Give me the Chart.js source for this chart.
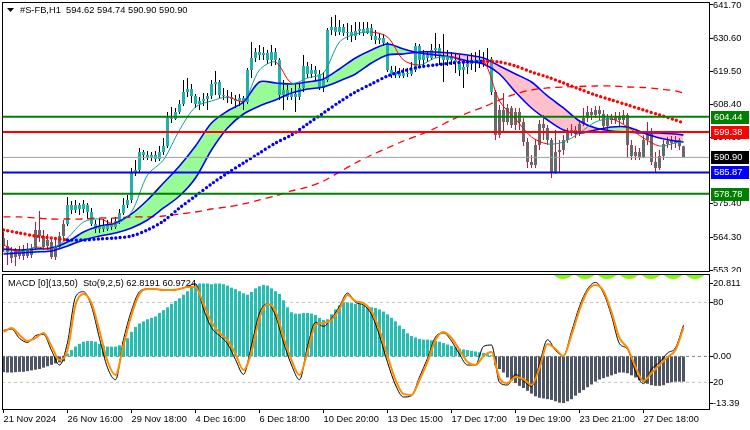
<!DOCTYPE html>
<html>
<head>
<meta charset="utf-8">
<title>#S-FB,H1</title>
<script src="https://cdn.jsdelivr.net/npm/chart.js@4.4.1/dist/chart.umd.min.js"></script>
<style>
  html, body { margin: 0; padding: 0; background: #ffffff; }
  #wrap { position: relative; width: 750px; height: 430px; overflow: hidden; background: #ffffff; }
  canvas { position: absolute; left: 0; }
  #main { top: 0; }
  #sub { top: 272px; }
</style>
</head>
<body>
<div id="wrap">
  <canvas id="main" width="750" height="272" style="width:750px;height:272px"></canvas>
  <canvas id="sub" width="750" height="158" style="width:750px;height:158px"></canvas>
</div>
<script>
// ---------------- DATA ----------------
const symbol = '#S-FB,H1';

const opens = [
564.04,561.37,559.37,557.70,559.70,558.04,560.04,558.37,560.70,566.70,
564.70,561.37,562.70,557.70,561.04,564.70,568.70,575.04,573.37,575.04,
573.70,575.04,572.70,568.70,567.04,568.04,567.04,568.70,567.70,569.70,
572.37,575.04,576.70,586.04,586.70,592.70,591.70,591.04,591.70,590.37,
592.70,594.70,604.04,603.70,606.04,608.70,612.70,613.70,611.37,608.70,
609.70,610.37,611.37,615.37,616.04,611.70,611.37,611.04,610.37,609.70,
610.70,609.37,620.04,624.04,626.04,625.04,625.70,623.37,626.04,623.37,
611.70,613.37,611.04,612.04,611.04,614.04,621.37,618.70,620.04,618.70,
614.04,616.70,633.37,634.37,632.70,634.37,632.37,632.70,631.37,633.04,
633.70,632.37,634.04,631.37,630.04,630.70,629.04,620.04,618.37,619.37,
618.04,619.04,618.70,620.04,628.04,623.37,625.04,624.04,626.70,627.37,
624.70,623.37,624.37,623.37,622.70,620.04,621.04,622.04,623.37,622.70,
623.37,623.04,623.70,612.70,598.37,606.70,602.70,607.37,601.70,606.04,
602.70,596.04,589.37,588.37,595.04,602.04,600.70,596.70,586.04,592.70,
593.37,596.70,599.70,600.04,598.70,602.04,604.04,606.04,605.04,606.70,
605.37,601.37,604.04,603.37,604.70,603.37,605.04,595.04,591.37,592.70,
591.04,596.70,598.70,589.37,587.37,591.37,595.37,596.37,595.70,596.70,
594.62];

const highs = [
566.04,563.37,561.04,560.70,561.37,561.70,562.37,562.04,569.37,573.04,
566.70,565.37,564.04,563.37,566.04,570.04,577.70,576.37,576.70,575.70,
576.70,575.70,574.04,570.04,570.70,570.37,570.04,570.70,571.04,573.70,
577.37,578.37,587.37,590.04,594.04,593.37,593.04,592.70,593.04,594.70,
597.37,606.04,607.70,607.37,610.04,616.70,617.37,615.37,612.04,611.04,
612.37,612.37,616.70,619.70,616.70,614.04,613.37,612.70,611.70,612.04,
611.37,620.70,629.37,627.37,628.37,627.70,626.70,628.37,627.37,624.04,
616.70,615.04,614.04,615.37,615.37,625.04,622.70,622.04,621.37,620.04,
619.37,634.04,637.70,638.37,636.70,635.37,635.70,635.04,636.04,636.04,
636.04,636.04,635.37,633.37,632.37,632.04,629.37,621.37,621.37,620.70,
620.70,620.70,622.70,629.04,628.70,626.70,626.04,628.70,632.37,628.70,
632.04,626.70,626.04,625.70,625.04,623.37,624.70,625.70,626.04,626.70,
626.04,627.37,624.37,613.37,608.37,612.37,608.70,608.04,607.37,607.37,
604.04,597.37,591.70,596.70,603.37,605.04,601.70,597.37,600.04,596.70,
598.37,600.70,602.04,601.37,603.37,607.37,608.04,607.37,608.04,608.04,
606.70,605.37,605.37,606.04,606.04,606.70,605.70,596.70,594.70,594.04,
598.37,602.70,600.70,592.70,593.37,596.70,597.70,598.04,598.04,597.37,
594.74];

const lows = [
559.37,555.04,555.70,554.70,557.04,556.70,557.37,557.37,560.04,562.70,
560.04,560.04,557.04,556.70,560.37,563.37,568.04,572.04,572.37,571.70,
572.37,570.37,568.04,565.70,565.70,566.04,566.37,566.70,567.04,568.70,
571.70,574.04,575.70,584.70,586.04,590.04,590.04,589.70,589.37,589.70,
591.70,594.04,602.37,603.37,605.37,608.04,611.04,609.04,607.37,606.70,
608.04,606.70,610.37,611.70,610.70,610.04,609.04,608.70,607.37,608.04,
606.70,608.70,617.37,622.70,623.37,623.37,622.04,621.37,621.70,610.04,
606.70,610.04,610.04,606.04,610.04,612.70,617.37,617.37,616.70,613.37,
612.70,616.04,631.70,631.37,631.70,631.37,630.04,629.37,630.04,631.70,
631.37,632.04,630.04,628.70,628.70,628.04,619.37,617.37,617.37,617.37,
617.37,617.70,618.04,619.37,621.37,620.70,622.70,623.37,624.04,621.70,
616.04,621.37,621.70,619.04,618.04,614.04,618.70,620.04,619.37,620.70,
621.04,621.37,611.70,596.70,597.37,599.37,601.70,600.70,600.04,600.04,
594.70,587.37,587.37,587.37,593.37,596.70,595.04,584.04,585.37,586.04,
591.70,595.70,598.04,597.37,598.04,601.37,602.70,603.37,604.04,603.37,
600.04,599.37,602.04,602.04,601.37,602.04,590.70,590.04,590.04,590.04,
590.70,595.04,588.37,585.70,586.70,590.04,594.04,593.37,594.04,593.37,
590.90];

const closes = [
561.37,559.37,557.37,559.70,558.04,560.04,558.04,560.70,566.70,564.70,
561.04,563.37,557.70,561.04,564.70,568.70,575.04,573.37,575.04,573.70,
575.37,572.70,568.70,567.04,568.04,567.04,568.70,567.70,569.70,572.37,
575.04,576.70,586.04,586.70,592.70,591.70,591.04,591.70,590.37,592.70,
594.70,604.04,603.70,606.04,608.70,612.70,613.70,611.37,608.70,609.70,
610.37,611.37,615.37,616.04,611.70,611.37,611.04,610.37,609.70,610.70,
609.37,620.04,624.04,626.04,625.04,625.70,623.37,626.04,623.37,611.70,
613.37,611.04,612.04,611.04,614.04,621.37,618.70,620.04,618.70,614.04,
616.70,633.37,634.37,632.70,634.37,632.37,632.70,631.37,633.04,633.70,
632.37,634.04,631.37,630.04,630.70,629.04,620.04,618.37,619.37,618.04,
619.04,618.70,620.04,628.04,623.37,625.04,624.04,626.70,627.37,624.70,
623.37,624.37,623.37,622.70,620.04,621.04,622.04,623.37,622.70,623.37,
623.04,623.70,612.70,598.37,606.70,602.70,607.37,601.70,606.04,602.70,
596.04,589.37,588.37,595.04,602.04,600.70,596.70,586.04,592.70,593.37,
596.70,599.70,600.04,598.70,602.04,604.04,606.04,605.04,606.70,605.37,
601.37,604.04,603.37,604.70,603.37,605.04,595.04,591.37,592.70,591.04,
596.70,598.70,589.37,587.37,591.37,595.37,596.37,595.70,596.70,594.62,
590.90];

// indicator readings, sampled at these bars
const maBars = [0,4,8,12,16,20,24,28,32,36,40,44,48,52,56,60,64,68,72,76,80,84,88,92,96,100,104,108,112,116,120,124,128,132,136,140,144,148,152,156,160,164,168,170];

const ribbonFast = [
560.37,560.04,560.37,560.70,562.70,566.04,568.04,569.04,572.04,576.70,
582.37,588.04,594.70,602.37,606.37,609.37,616.04,615.70,615.37,616.04,
617.04,620.37,624.04,626.70,628.70,627.04,625.70,625.04,624.37,623.04,
622.04,618.70,612.70,607.37,603.37,600.04,599.04,600.04,601.04,601.04,
599.04,597.37,596.37,596.04];

const ribbonSlow = [
558.70,559.04,559.37,559.70,561.37,563.37,564.70,565.70,567.37,570.04,
574.04,578.04,584.04,593.37,600.70,605.37,608.04,610.04,612.37,613.70,
614.37,616.37,618.70,622.37,625.04,625.37,626.04,626.04,625.70,625.04,
624.04,621.37,618.70,616.04,611.37,607.37,603.04,600.70,599.70,599.37,
599.04,599.04,598.70,598.37];

const fastMA = [
561.70,559.37,561.04,560.37,564.04,569.37,570.37,568.70,572.70,585.04,
590.04,600.04,607.70,609.70,611.04,609.70,620.04,622.70,615.70,617.37,
619.04,629.37,632.04,632.70,631.04,623.37,621.70,624.04,624.37,622.37,
623.04,609.70,603.70,597.70,595.37,596.04,599.04,602.70,603.70,601.04,
597.37,594.70,595.70,596.04];

const trendMA = [
566.70,565.70,564.70,564.04,563.37,563.37,563.70,564.04,564.70,566.70,
569.70,574.04,578.04,582.04,585.70,589.04,592.37,595.70,598.37,602.04,
605.70,609.37,612.70,615.37,618.04,619.70,621.04,621.70,622.37,622.70,
622.87,622.70,621.37,619.37,617.70,615.70,613.70,611.70,610.04,608.37,
606.70,605.04,603.37,602.37];

const longMA = [
571.04,571.04,570.70,570.37,570.37,570.37,570.70,570.70,571.04,571.04,
571.37,572.04,572.70,573.70,574.37,575.37,576.70,578.04,579.70,581.04,
583.04,586.04,589.04,591.70,594.04,596.37,598.37,600.70,603.37,605.70,
607.70,610.04,612.04,613.37,614.04,614.37,614.54,614.70,614.70,614.37,
614.20,613.70,613.04,612.37];

const levels = [604.44, 599.38, 590.90, 585.87, 578.78];
const priceTicks = [641.70, 630.60, 619.50, 608.40, 597.60, 575.40, 564.30, 553.20];

const macdHist = [
-4.5,-4.6,-4.6,-4.5,-4.4,-4.4,-4.2,-4.0,-3.8,-3.6,
-3.2,-2.8,-2.4,-2.0,-1.7,-1.4,0.8,1.8,2.8,3.6,
4.2,4.4,4.4,4.2,3.6,3.0,2.8,2.8,2.8,3.2,
4.2,5.2,7.0,8.4,9.4,10.0,10.6,11.0,11.4,12.4,
13.2,14.0,15.0,15.8,16.6,17.6,18.6,19.6,20.4,20.8,
20.8,20.8,20.6,20.8,20.8,20.6,20.2,19.6,19.2,18.6,
18.0,17.6,18.4,19.4,20.0,20.4,20.2,19.4,18.6,17.8,
16.0,14.0,12.6,12.2,12.2,12.4,12.4,12.2,11.8,11.0,
10.4,10.6,12.0,13.4,14.6,15.4,15.4,15.2,15.0,15.0,
14.6,14.2,14.0,13.8,13.4,12.8,12.0,11.0,10.0,8.8,
7.8,6.6,5.8,5.4,5.0,4.8,4.8,4.6,4.4,4.2,
3.8,3.4,3.0,2.6,2.2,2.0,1.8,1.6,1.4,1.2,
1.0,0.6,0.3,-2.6,-3.6,-4.6,-6.0,-7.0,-7.6,-8.4,
-9.0,-9.8,-10.6,-11.4,-11.8,-12.0,-12.2,-12.4,-12.8,-13.2,
-13.3,-12.8,-12.2,-11.2,-10.4,-9.6,-8.8,-8.0,-7.2,-6.6,
-6.2,-5.8,-5.4,-5.0,-4.6,-4.6,-4.8,-5.4,-6.0,-6.8,
-7.4,-7.8,-8.2,-8.4,-8.4,-8.2,-7.6,-7.4,-7.2,-7.2,
-7.2];

// stochastic, one reading every second bar (bars 0,2,...,170)
const stoMain = [
59,60,53,50,55,56,44,33,50,84,
88,77,53,31,22,52,74,88,90,90,
89,89,90,92,94,75,61,55,49,37,
26,48,72,79,70,50,33,22,47,65,
62,68,77,87,80,78,71,55,35,18,
9,10,24,38,54,57,51,41,33,33,
47,48,20,18,26,21,17,34,52,44,
40,58,77,90,95,87,70,49,45,28,
19,30,35,42,46,62.8191];

const stoSignal = [
57.8,60.8,55.5,51,53.3,57,47.3,36.8,44.3,78,
86.3,79.5,58.5,36,25.5,48,70.5,86.3,90,90,
89.3,89.3,90,91.5,91.5,78.8,65.3,57,51.8,41.3,
29.3,42.8,68.3,78.8,73.5,54,36.8,25.5,42.8,63,
64.5,66.8,75,85.5,81,79.5,73.5,59.3,39.8,21.8,
11.3,10.5,21.8,35.3,51.8,57.8,53.3,44.3,35.3,33,
39.8,42.8,23.3,19.5,24,22.5,18,30.8,48.8,45,
39.8,55.5,74.3,88.5,93,88.5,72.8,53.3,45.8,31.5,
21,27,33,39,44.3,60.9724];

const stoLevels = [80, 20];
const macdTicks = [20.811, 0, -13.39];

const tickBars = [0,16,32,48,64,80,96,112,128,144,160];
const tickLabels = ['21 Nov 2024','26 Nov 16:00','29 Nov 18:00','4 Dec 16:00','6 Dec 18:00','10 Dec 20:00','13 Dec 15:00','17 Dec 17:00','19 Dec 19:00','23 Dec 21:00','27 Dec 18:00'];

const limeBars = [139.9,145.4,150.9,156.4,161.9,167.4,172.9];
const limeLevel = 107;

// ---------------- STYLE ----------------
const FONT = "'Liberation Sans', Arial, sans-serif";
const FS = 9.3;
const X_MIN = -0.375, X_MAX = 176.375;
const TEAL = '#20B2AA', GRAY = '#696969', WICK_DN = '#CC1436';
const HIST_UP = '#26BEB3', HIST_DN = '#4D5562';
const levelLine = ['#008000', '#FF0000', '#A0A0A0', '#0000FF', '#008000'];
const levelWidth = [2, 2, 1, 2, 2];
const levelBox = ['#008000', '#FF0000', '#000000', '#0000FF', '#008000'];
const TEAL_RUN_FROM = 16, TEAL_RUN_TO = 122;

Chart.defaults.font.family = FONT;
Chart.defaults.font.size = FS;
Chart.defaults.color = '#000';

const pts = (bars, vals) => vals.map((v, k) => ({ x: bars[k], y: v }));
const inTealRun = i => i >= TEAL_RUN_FROM && i <= TEAL_RUN_TO;
const slopeColor = (up, down) => ctx => (ctx.p1.parsed.y >= ctx.p0.parsed.y ? up : down);
const noPad = s => { s.paddingTop = 0; s.paddingBottom = 0; s.paddingLeft = 0; s.paddingRight = 0; };

const mainDecor = {
  id: 'mainDecor',
  afterDraw(chart) {
    const { ctx, chartArea: a } = chart;
    const ys = chart.scales.y;
    ctx.save();
    ctx.strokeStyle = '#000';
    ctx.lineWidth = 1;
    ctx.strokeRect(a.left + 0.5, a.top + 0.5, a.right - a.left, a.bottom - a.top);
    ctx.fillStyle = '#000';
    ctx.beginPath();
    ctx.moveTo(7, 8); ctx.lineTo(14, 8); ctx.lineTo(10.5, 12); ctx.closePath();
    ctx.fill();
    ctx.font = FS + 'px ' + FONT;
    ctx.textAlign = 'left';
    ctx.textBaseline = 'middle';
    const last = closes.length - 1;
    const ohlc = [opens[last], highs[last], lows[last], closes[last]].map(v => v.toFixed(2)).join(' ');
    ctx.fillText(symbol + '  ' + ohlc, 20, 10.5);
    levels.forEach((v, i) => {
      const y = Math.round(ys.getPixelForValue(v));
      ctx.fillStyle = levelBox[i];
      ctx.fillRect(711, y - 6, 38, 13);
      ctx.fillStyle = '#ffffff';
      ctx.fillText(v.toFixed(2), 714, y + 0.5);
    });
    ctx.restore();
  }
};

const subDecor = {
  id: 'subDecor',
  afterDraw(chart) {
    const { ctx, chartArea: a } = chart;
    const ym = chart.scales.yMacd;
    ctx.save();
    ctx.strokeStyle = '#000';
    ctx.lineWidth = 1;
    ctx.strokeRect(a.left + 0.5, a.top + 0.5, a.right - a.left, a.bottom - a.top);
    ctx.fillStyle = '#000';
    ctx.font = FS + 'px ' + FONT;
    ctx.textAlign = 'left';
    ctx.textBaseline = 'middle';
    ctx.fillText('MACD [0](13,50)  Sto(9,2,5) ' + stoMain[stoMain.length - 1].toFixed(4) + ' ' + stoSignal[stoSignal.length - 1].toFixed(4), 8, a.top + 9.5);
    macdTicks.forEach(v => {
      const y = Math.round(ym.getPixelForValue(v)) + 0.5;
      ctx.beginPath();
      ctx.moveTo(a.right, y);
      ctx.lineTo(a.right + 4, y);
      ctx.stroke();
      ctx.fillText(v === 0 ? '0.00' : String(v), a.right + 4, y);
    });
    ctx.restore();
  }
};

// ---------------- MAIN CHART ----------------
const lineBase = { type: 'line', yAxisID: 'y', pointRadius: 0, pointHoverRadius: 0, fill: false, tension: 0.3 };

new Chart(document.getElementById('main'), {
  type: 'bar',
  data: {
    datasets: [
      Object.assign({}, lineBase, { data: pts(maBars, ribbonFast), borderColor: 'rgba(0,0,0,0)', borderWidth: 1,
        fill: { target: '+1', above: '#98FB98', below: '#FFC0CB' }, order: 20 }),
      Object.assign({}, lineBase, { data: pts(maBars, ribbonSlow), borderColor: 'rgba(0,0,0,0)', borderWidth: 1, order: 20 }),
      { type: 'bar', yAxisID: 'y', data: highs.map((h, i) => ({ x: i, y: [lows[i], h] })), barThickness: 1, grouped: false,
        inflateAmount: 0, backgroundColor: c => inTealRun(c.dataIndex) ? '#000000' : WICK_DN, order: 12 },
      { type: 'bar', yAxisID: 'y', data: opens.map((o, i) => ({ x: i, y: [o, closes[i]] })), barThickness: 3, minBarLength: 1,
        grouped: false, inflateAmount: 0, backgroundColor: c => inTealRun(c.dataIndex) ? TEAL : GRAY, order: 11 },
      Object.assign({}, lineBase, { data: pts(maBars, longMA), borderColor: '#FF0000', borderWidth: 1.3, borderDash: [7, 5], order: 6 }),
      Object.assign({}, lineBase, { data: pts(maBars, ribbonFast), borderColor: '#0000FF', borderWidth: 1.6, order: 5 }),
      Object.assign({}, lineBase, { data: pts(maBars, ribbonSlow), borderColor: '#0000FF', borderWidth: 1.6, order: 5 }),
      Object.assign({}, lineBase, { data: pts(maBars, fastMA), borderColor: '#119E94', borderWidth: 1,
        segment: { borderColor: slopeColor('#119E94', '#FF0000') }, order: 4 }),
      Object.assign({}, lineBase, { data: pts(maBars, trendMA), borderColor: '#0000FF', borderWidth: 3.4, borderDash: [0, 4.4],
        borderCapStyle: 'round', segment: { borderColor: slopeColor('#0000FF', '#FF0000') }, order: 3 }),
      ...levels.map((v, i) => Object.assign({}, lineBase, { tension: 0, data: [{ x: X_MIN, y: v }, { x: X_MAX, y: v }],
        borderColor: levelLine[i], borderWidth: levelWidth[i], order: 1 }))
    ]
  },
  options: {
    responsive: false, animation: false, devicePixelRatio: 1, events: [],
    layout: { autoPadding: false, padding: { left: 2, top: 2, right: 0, bottom: 1 } },
    plugins: { legend: { display: false }, tooltip: { enabled: false } },
    scales: {
      x: { type: 'linear', min: X_MIN, max: X_MAX, display: false, offset: false, grid: { offset: false }, afterFit: noPad },
      y: {
        type: 'linear', position: 'right', min: 553.03, max: 642.70, beginAtZero: false,
        afterBuildTicks: s => { s.ticks = priceTicks.map(v => ({ value: v })); },
        afterFit: s => { s.width = 41; noPad(s); },
        ticks: { color: '#000', padding: 0, autoSkip: false, font: { family: FONT, size: FS }, callback: v => Number(v).toFixed(2) },
        grid: { drawOnChartArea: false, drawTicks: true, tickLength: 4, color: '#000' },
        border: { display: true, color: '#000' }
      }
    }
  },
  plugins: [mainDecor]
});

// ---------------- SUB CHART ----------------
new Chart(document.getElementById('sub'), {
  type: 'bar',
  data: {
    datasets: [
      ...stoLevels.map(v => ({ type: 'line', yAxisID: 'ySto', data: [{ x: X_MIN, y: v }, { x: X_MAX, y: v }],
        borderColor: '#C0C0C0', borderWidth: 1, borderDash: [3, 3], pointRadius: 0, fill: false, order: 20 })),
      { type: 'line', yAxisID: 'yMacd', data: [{ x: X_MIN, y: 0 }, { x: X_MAX, y: 0 }], borderColor: '#708090',
        borderWidth: 1, borderDash: [3, 3], pointRadius: 0, fill: false, order: 19 },
      { type: 'bar', yAxisID: 'yMacd', data: macdHist.map((v, i) => ({ x: i, y: v })), barThickness: 3, grouped: false,
        inflateAmount: 0, backgroundColor: c => (c.raw && c.raw.y >= 0) ? HIST_UP : HIST_DN, order: 10 },
      { type: 'line', yAxisID: 'ySto', data: stoMain.map((v, k) => ({ x: 2 * k, y: v })), borderColor: '#000000',
        borderWidth: 1, pointRadius: 0, cubicInterpolationMode: 'monotone', fill: false, order: 3 },
      { type: 'line', yAxisID: 'ySto', data: stoSignal.map((v, k) => ({ x: 2 * k, y: v })), borderColor: '#FF8C00',
        borderWidth: 2, pointRadius: 0, cubicInterpolationMode: 'monotone', fill: false, order: 2 },
      { type: 'line', yAxisID: 'ySto', data: limeBars.map(b => ({ x: b, y: limeLevel })), showLine: false,
        pointRadius: 12.5, pointHoverRadius: 12.5, pointBackgroundColor: '#7CFC00', pointBorderWidth: 0, clip: 0, order: 1 }
    ]
  },
  options: {
    responsive: false, animation: false, devicePixelRatio: 1, events: [],
    layout: { autoPadding: false, padding: { left: 2, top: 2, right: 0, bottom: 0 } },
    plugins: { legend: { display: false }, tooltip: { enabled: false } },
    scales: {
      x: {
        type: 'linear', min: X_MIN, max: X_MAX, position: 'bottom', offset: false,
        afterBuildTicks: s => { s.ticks = tickBars.map(v => ({ value: v })); },
        afterFit: s => { s.height = 21; noPad(s); },
        ticks: { autoSkip: false, maxRotation: 0, minRotation: 0, align: 'start', padding: 1, color: '#000',
          font: { family: FONT, size: FS }, callback: (v, i) => tickLabels[i] },
        grid: { drawOnChartArea: false, drawTicks: true, tickLength: 4, color: '#000', offset: false },
        border: { display: true, color: '#000' }
      },
      yMacd: {
        type: 'linear', position: 'right', display: false, min: -15.0, max: 23.5, beginAtZero: false,
        afterFit: noPad
      },
      ySto: {
        type: 'linear', position: 'right', min: 0, max: 101.3, beginAtZero: false,
        afterBuildTicks: s => { s.ticks = stoLevels.map(v => ({ value: v })); },
        afterFit: s => { s.width = 41; noPad(s); },
        ticks: { color: '#000', padding: 0, autoSkip: false, font: { family: FONT, size: FS }, callback: v => String(v) },
        grid: { drawOnChartArea: false, drawTicks: true, tickLength: 4, color: '#000' },
        border: { display: true, color: '#000' }
      }
    }
  },
  plugins: [subDecor]
});
</script>
</body>
</html>
